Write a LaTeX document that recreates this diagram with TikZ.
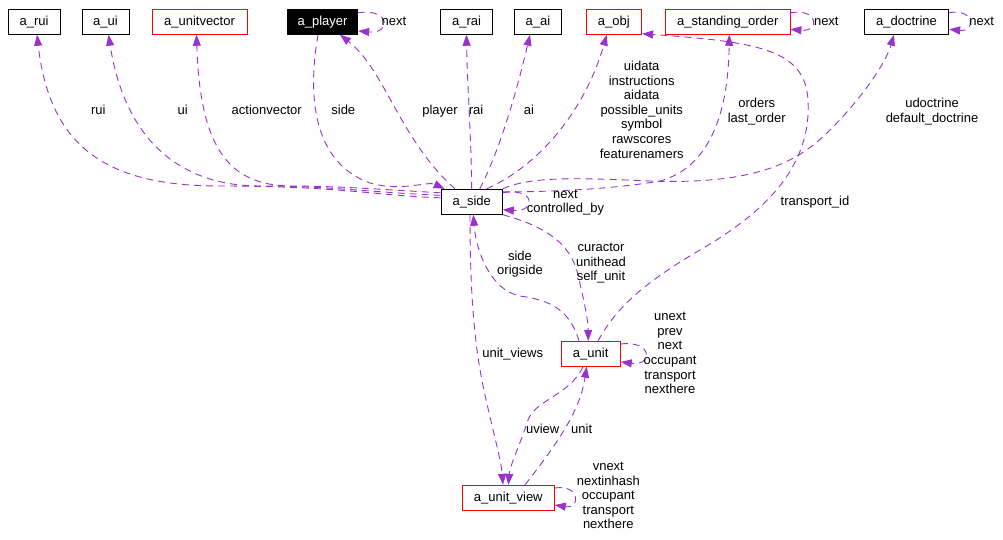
\documentclass[tikz,border=0pt]{standalone}
\usepackage{fontspec}
\setmainfont{Liberation Sans}
\usetikzlibrary{arrows.meta,calc}
\definecolor{edgecol}{HTML}{9A32CD}
\newcommand\dxfont{\fontsize{13}{14.6}\selectfont}
\tikzset{
  box/.style={draw=black, fill=white, line width=0.9pt, minimum height=25pt, inner sep=0pt, font=\dxfont},
  redbox/.style={box, draw=red},
  blackbox/.style={box, fill=black, text=white},
  edge/.style={draw=edgecol, line width=0.9pt, dash pattern=on 7pt off 5pt, -{Triangle[length=11pt,width=8pt]}},
  lbl/.style={align=center, anchor=north, inner sep=0pt, font=\dxfont}
}
\begin{document}
\begin{tikzpicture}[x=1pt,y=-1pt]
\useasboundingbox[fill=white] (0,0) rectangle (1003,540);
% nodes
\node[box, minimum width=52pt] (rui) at (34,21.8) {a\_rui};
\node[box, minimum width=47pt] (ui) at (105.5,21.8) {a\_ui};
\node[redbox, minimum width=95pt] (unitvector) at (199.5,21.8) {a\_unitvector};
\node[blackbox, minimum width=70.4pt] (player) at (322.5,21.8) {a\_player};
\node[box, minimum width=51.6pt] (rai) at (466.5,21.8) {a\_rai};
\node[box, minimum width=47.4pt] (ai) at (538,21.8) {a\_ai};
\node[redbox, minimum width=55.7pt] (obj) at (613.8,21.8) {a\_obj};
\node[redbox, minimum width=124.3pt] (standing) at (727.8,21.8) {a\_standing\_order};
\node[box, minimum width=84.4pt] (doctrine) at (906.5,21.8) {a\_doctrine};
\node[box, minimum width=61.3pt] (side) at (471.7,201.8) {a\_side};
\node[redbox, minimum width=59.3pt] (unit) at (590.7,353.8) {a\_unit};
\node[redbox, minimum width=92pt] (uv) at (508.3,497.8) {a\_unit\_view};

% edges from a_side to the top row
\draw[edge] ($(side.west)+(0,-4)$) .. controls (380,196) and (340,186) .. (220,186) .. controls (110,186) and (50,150) .. ($(rui.south)+(3,0)$);
\draw[edge] ($(side.west)+(0,-6.5)$) .. controls (380,193) and (330,186) .. (260,186) .. controls (180,186) and (125,140) .. ($(ui.south)+(3,0)$);
\draw[edge] ($(side.west)+(0,-9)$) .. controls (390,190) and (340,186) .. (290,186) .. controls (230,185) and (200,150) .. ($(unitvector.south)+(-3,0)$);
\draw[edge] ($(player.south)+(-4.5,0)$) .. controls (305,110) and (320,165) .. (370,183) .. controls (400,192) and (428,181) .. ($(side.north west)+(4,0)$);
\draw[edge] ($(side.north)+(-16.7,0)$) .. controls (400,140) and (385,70) .. ($(player.south)+(17.5,0)$);
\draw[edge] (side.north) .. controls (471,130) and (467,80) .. (rai.south);
\draw[edge] ($(side.north)+(8,0)$) .. controls (500,150) and (517,90) .. ($(ai.south)+(-8,0)$);
\draw[edge] ($(side.north)+(15,0)$) .. controls (540,165) and (585,110) .. ($(obj.south)+(-7,0)$);
\draw[edge] ($(side.north east)+(0,3)$) .. controls (560,192) and (620,188) .. (660,181) .. controls (700,170) and (728,130) .. ($(standing.south)+(1.5,0)$);
\draw[edge] (side.north east) .. controls (530,176) and (580,178) .. (650,181) .. controls (760,185) and (800,160) .. (830,130) .. controls (860,100) and (885,65) .. ($(doctrine.south)+(-12.5,0)$);
\draw[edge] ($(unit.north)+(7.3,0)$) .. controls (615,310) and (640,285) .. (700,250) .. controls (760,215) and (812,170) .. (808,100) .. controls (805,50) and (760,42) .. ($(obj.south east)+(0,-1)$);

% self loops
\draw[edge] ($(player.east)+(0,-9)$) .. controls (390,8) and (392,34) .. ($(player.east)+(0,9.2)$);
\draw[edge] ($(standing.east)+(0,-9)$) .. controls (819,8) and (820,32) .. ($(standing.east)+(0,7.5)$);
\draw[edge] ($(doctrine.east)+(0,-9)$) .. controls (975,8) and (976,32) .. ($(doctrine.east)+(0,7.5)$);
\draw[edge] ($(side.east)+(0,-9)$) .. controls (535,187) and (537,212) .. ($(side.east)+(0,8)$);
\draw[edge] ($(unit.east)+(0,-9.8)$) .. controls (652,340) and (654,366) .. ($(unit.east)+(0,8.2)$);
\draw[edge] ($(uv.east)+(0,-9.8)$) .. controls (580,484) and (581,509) .. ($(uv.east)+(0,7.2)$);

% lower edges
\draw[edge] (side.south east) .. controls (540,225) and (570,240) .. (578,275) .. controls (585,305) and (588,320) .. ($(unit.north)+(-2.4,0)$);
\draw[edge] ($(unit.north)+(-11.7,0)$) .. controls (570,310) and (550,300) .. (520,296) .. controls (490,290) and (476,250) .. ($(side.south)+(1.6,0)$);
\draw[edge] ($(side.south)+(-1.7,0)$) .. controls (470,300) and (475,350) .. (485,395) .. controls (495,440) and (501,460) .. ($(uv.north)+(-5.3,0)$);
\draw[edge] ($(unit.south)+(-7.7,0)$) .. controls (570,395) and (535,400) .. (528,420) .. controls (520,445) and (510,465) .. (uv.north);
\draw[edge] ($(uv.north)+(16.7,0)$) .. controls (560,440) and (580,410) .. ($(unit.south)+(-4,0)$);

% labels
\node[lbl] (l1) at (98.3,103.6) {\strut rui};
\node[lbl] (l2) at (182.7,103.6) {\strut ui};
\node[lbl] (l3) at (266.7,103.6) {\strut actionvector};
\node[lbl] (l4) at (343.3,103.6) {\strut side};
\node[lbl] (l5) at (440,103.6) {\strut player};
\node[lbl] (l6) at (476,103.6) {\strut rai};
\node[lbl] (l7) at (529,104) {\strut ai};
\node[lbl] (l8) at (641.7,60) {\strut uidata\\instructions\\aidata\\possible\_units\\symbol\\rawscores\\featurenamers};
\node[lbl] (l9) at (756.7,97) {\strut orders\\last\_order};
\node[lbl] (l10) at (932,97) {\strut udoctrine\\default\_doctrine};
\node[lbl] (l11) at (815,195) {\strut transport\_id};
\node[lbl] (l12) at (565.5,187.6) {\strut next\\controlled\_by};
\node[lbl] (l13) at (520,249.6) {\strut side\\origside};
\node[lbl] (l14) at (601,241) {\strut curactor\\unithead\\self\_unit};
\node[lbl] (l15) at (512.7,347) {\strut unit\_views};
\node[lbl] (l16) at (670,310.3) {\strut unext\\prev\\next\\occupant\\transport\\nexthere};
\node[lbl] (l17) at (542.7,422.6) {\strut uview};
\node[lbl] (l18) at (581.7,422.6) {\strut unit};
\node[lbl] (l19) at (608.3,460) {\strut vnext\\nextinhash\\occupant\\transport\\nexthere};
\node[lbl] (l20) at (394,15.3) {\strut next};
\node[lbl] (l21) at (826.3,15.3) {\strut next};
\node[lbl] (l22) at (981.7,15.3) {\strut next};
\end{tikzpicture}
\end{document}
